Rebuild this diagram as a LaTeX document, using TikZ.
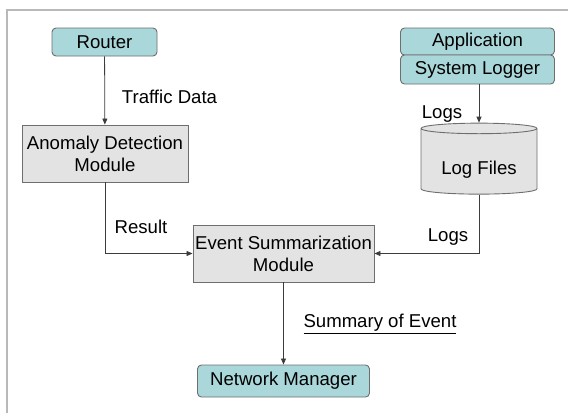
\documentclass[tikz,border=0pt]{standalone}
\usepackage{fontspec}
\setmainfont{Liberation Sans}
\usetikzlibrary{shapes.geometric,arrows.meta}
\definecolor{tealfill}{RGB}{170,215,218}
\definecolor{greyfill}{RGB}{227,227,227}
\definecolor{boxline}{RGB}{110,110,110}
\definecolor{wire}{RGB}{60,60,60}
\definecolor{framegrey}{RGB}{185,185,185}
\begin{document}
\begin{tikzpicture}[x=1pt,y=-1pt,
  font=\fontsize{18.6}{22}\selectfont,
  entity/.style={draw=boxline, fill=tealfill, rounded corners=4pt, line width=0.9pt,
    inner sep=0pt, align=center},
  module/.style={draw=boxline, fill=greyfill, line width=0.9pt,
    inner sep=0pt, align=center},
  store/.style={cylinder, shape border rotate=90, draw=boxline, fill=greyfill,
    line width=0.9pt, inner sep=0pt, aspect=0.14},
  flow/.style={draw=wire, line width=0.8pt, -{Triangle[length=6pt,width=5pt]}},
  lbl/.style={inner sep=0pt, anchor=center}]
\useasboundingbox (0,0) rectangle (568,413);
% outer frame (top and left edges only)
\draw[framegrey, line width=2pt] (568,10) -- (7,10) -- (7,413);

% sources
\node[entity, minimum width=105, minimum height=28] (router) at (104.5,42) {Router};
\node[entity, minimum width=154, minimum height=27] (app) at (477.5,41.5) {Application};
\node[entity, minimum width=154, minimum height=29] (syslog) at (477.5,69.5) {System Logger};

% processing
\node[module, minimum width=166, minimum height=57] (anomaly) at (105,153.5)
  {Anomaly Detection\\Module};
\node[store, minimum width=116, minimum height=71] (logfiles) at (479,161.5)
  {\raisebox{-12.5pt}[0pt][0pt]{Log Files}};
\node[module, minimum width=181, minimum height=57] (event) at (283.5,253.5)
  {Event Summarization\\Module};

% sink
\node[entity, minimum width=172, minimum height=32] (manager) at (283.5,381) {Network Manager};

% connectors
\draw[flow] (router) -- (anomaly);
\draw[flow] (syslog.south -| logfiles.north) -- (logfiles.north);
\draw[flow] (anomaly.south) |- (event.west);
\draw[flow] (logfiles.south) |- (event.east);
\draw[flow] (event) -- (manager);

% connector labels
\node[lbl] (ltraffic) at (169.5,97) {Traffic Data};
\node[lbl] (llogs1) at (442,114) {Logs};
\node[lbl] (lresult) at (141,227) {Result};
\node[lbl] (llogs2) at (448,237) {Logs};
\node[lbl] (lsummary) at (380,324) {\underline{Summary of Event}};
\end{tikzpicture}
\end{document}
